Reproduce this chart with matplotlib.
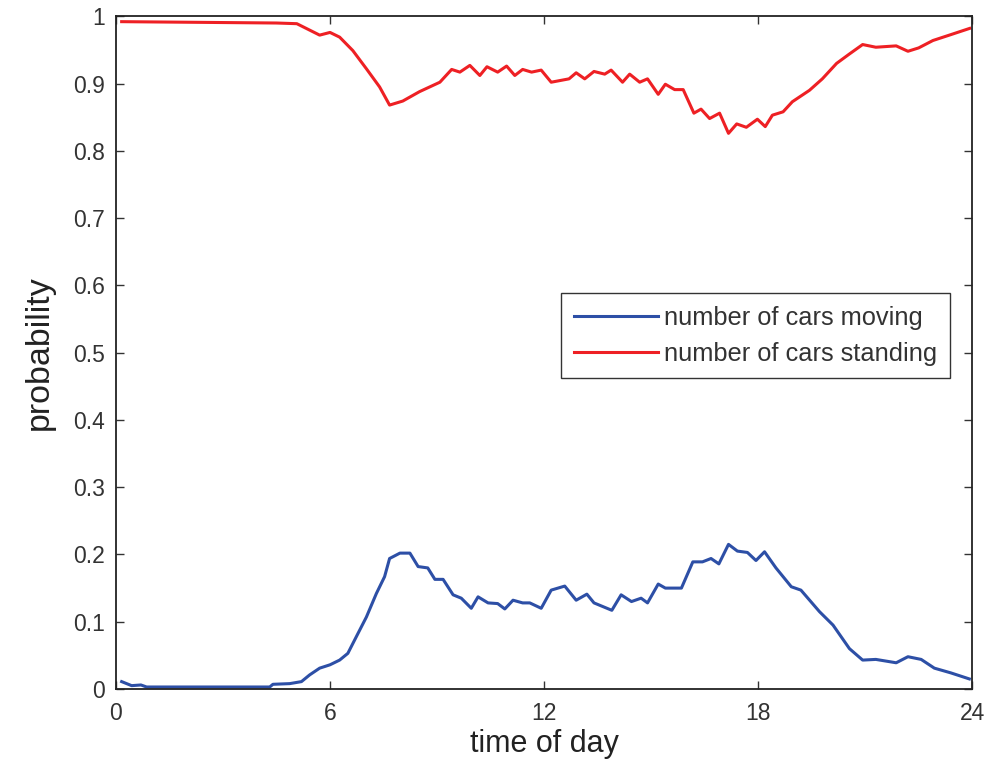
import matplotlib
matplotlib.use("Agg")
import matplotlib.pyplot as plt

plt.rcParams['font.family'] = ['Liberation Sans', 'DejaVu Sans']

# hours and probabilities
moving_t = [0.16, 0.44, 0.7, 0.86, 4.31, 4.4, 4.87, 5.2, 5.43, 5.71, 6.0, 6.27, 6.5,
            6.74, 7.02, 7.3, 7.53, 7.67, 7.96, 8.24, 8.47, 8.74, 8.94, 9.17, 9.45,
            9.68, 9.96, 10.15, 10.43, 10.7, 10.9, 11.13, 11.4, 11.6, 11.92, 12.2,
            12.58, 12.9, 13.2, 13.4, 13.9, 14.16, 14.45, 14.72, 14.9, 15.2, 15.4,
            15.85, 16.17, 16.44, 16.68, 16.9, 17.17, 17.42, 17.7, 17.94, 18.18,
            18.5, 18.93, 19.2, 19.72, 20.1, 20.56, 20.93, 21.3, 21.87, 22.2, 22.57,
            22.94, 23.4, 23.92]
moving_p = [0.011, 0.005, 0.006, 0.003, 0.003, 0.007, 0.008, 0.011, 0.021, 0.031,
            0.036, 0.043, 0.053, 0.078, 0.107, 0.142, 0.167, 0.194, 0.202, 0.202,
            0.182, 0.180, 0.163, 0.163, 0.140, 0.135, 0.120, 0.137, 0.128, 0.127,
            0.119, 0.132, 0.128, 0.128, 0.120, 0.147, 0.153, 0.132, 0.141, 0.128,
            0.117, 0.140, 0.130, 0.135, 0.128, 0.156, 0.150, 0.150, 0.189, 0.189,
            0.194, 0.186, 0.215, 0.205, 0.203, 0.191, 0.204, 0.180, 0.152, 0.147,
            0.115, 0.095, 0.060, 0.043, 0.044, 0.039, 0.048, 0.044, 0.031, 0.024,
            0.015]

standing_t = [0.16, 4.5, 5.07, 5.71, 6.0, 6.27, 6.64, 7.02, 7.39, 7.67, 8.04, 8.51,
              9.08, 9.41, 9.64, 9.92, 10.2, 10.4, 10.7, 10.95, 11.18, 11.4, 11.65,
              11.92, 12.2, 12.7, 12.9, 13.14, 13.4, 13.7, 13.88, 14.2, 14.4, 14.68,
              14.9, 15.2, 15.4, 15.66, 15.9, 16.2, 16.4, 16.64, 16.92, 17.17, 17.4,
              17.67, 17.98, 18.2, 18.4, 18.7, 18.96, 19.44, 19.8, 20.2, 20.56,
              20.93, 21.3, 21.87, 22.2, 22.5, 22.9, 23.36, 23.93]
standing_p = [0.992, 0.990, 0.989, 0.972, 0.976, 0.969, 0.949, 0.922, 0.895, 0.868,
              0.874, 0.888, 0.902, 0.921, 0.917, 0.927, 0.912, 0.925, 0.917, 0.926,
              0.912, 0.921, 0.917, 0.920, 0.902, 0.907, 0.916, 0.907, 0.918, 0.914,
              0.920, 0.902, 0.914, 0.902, 0.907, 0.884, 0.899, 0.891, 0.891, 0.856,
              0.862, 0.848, 0.856, 0.826, 0.840, 0.835, 0.847, 0.836, 0.853, 0.858,
              0.873, 0.890, 0.907, 0.930, 0.944, 0.958, 0.954, 0.956, 0.948, 0.953,
              0.964, 0.972, 0.982]

fig = plt.figure(figsize=(9.91, 7.61), dpi=100)
ax = fig.add_axes([0.117, 0.0946, 0.864, 0.884])

ax.plot(moving_t, moving_p, color='#2d4fa6', lw=2.2, label='number of cars moving')
ax.plot(standing_t, standing_p, color='#ee2024', lw=2.2, label='number of cars standing')

ax.set_xlim(0, 24)
ax.set_ylim(0, 1)
ax.set_xticks([0, 6, 12, 18, 24])
ax.set_yticks([i / 10 for i in range(11)])
ax.set_yticklabels(['0'] + ['%.1f' % (i / 10) for i in range(1, 10)] + ['1'])
ax.tick_params(direction='in', top=True, right=True, length=6, width=1,
               labelsize=16.5, colors='#333333')
ax.tick_params(axis='y', pad=8)
ax.tick_params(axis='x', pad=9)
for s in ax.spines.values():
    s.set_linewidth(1.3)
    s.set_color('#222222')

ax.set_xlabel('time of day', fontsize=22, labelpad=3, color='#222222')
ax.set_ylabel('probability', fontsize=24.5, labelpad=13, color='#222222')

leg = ax.legend(loc='upper right', bbox_to_anchor=(0.974, 0.588), fontsize=18.3,
                fancybox=False, framealpha=1, edgecolor='#333333',
                handlelength=3.3, handletextpad=0.25, borderpad=0.5,
                labelspacing=0.45, borderaxespad=0)
leg.get_frame().set_linewidth(1.0)
for t in leg.get_texts():
    t.set_color('#333333')

fig.savefig('out.png', dpi=100)
